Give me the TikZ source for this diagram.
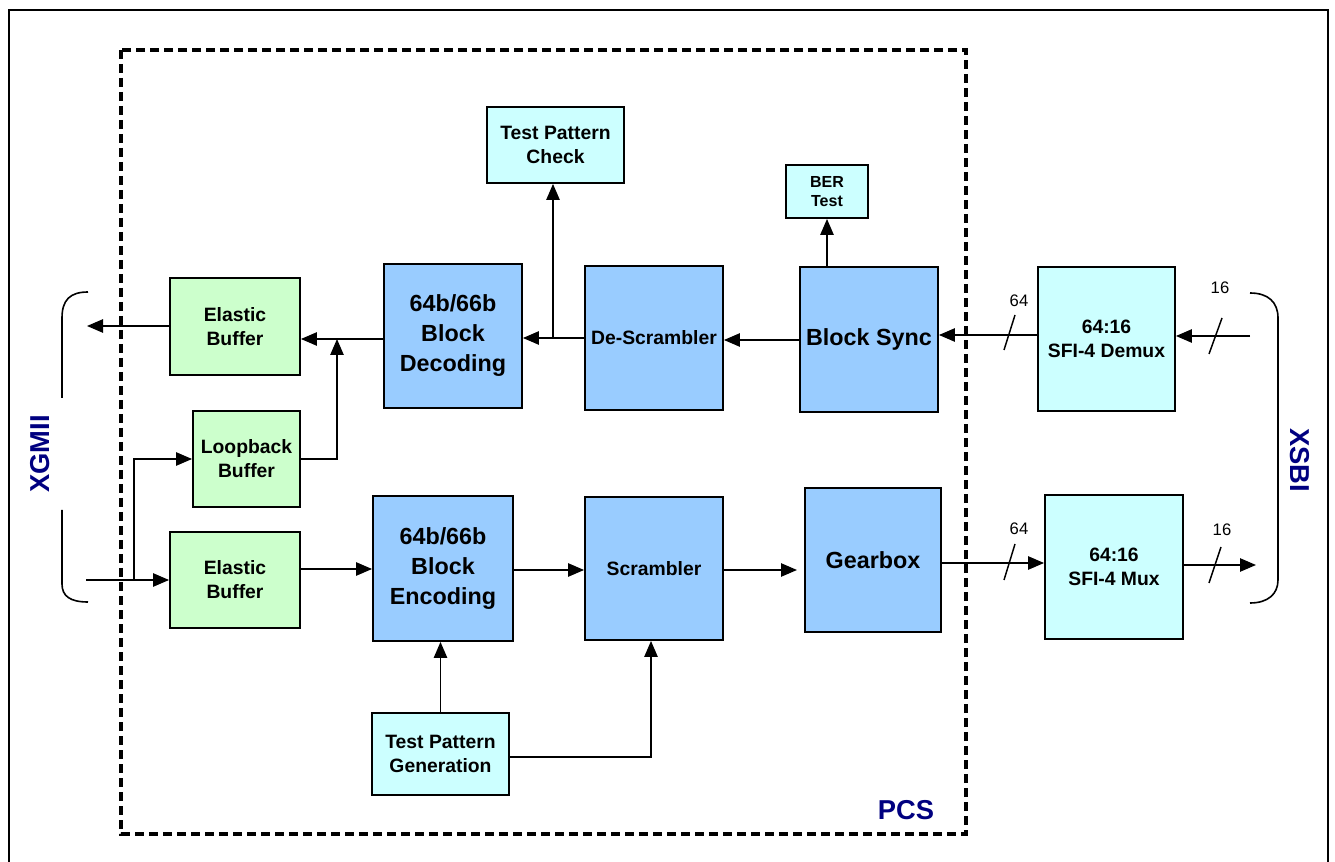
\documentclass[tikz,border=0pt]{standalone}
\usepackage{fontspec}
\setmainfont{Liberation Sans}
\usetikzlibrary{arrows.meta}
\definecolor{gbox}{HTML}{CCFFCC}
\definecolor{bbox}{HTML}{99CCFF}
\definecolor{cbox}{HTML}{CCFFFF}
\definecolor{navyc}{HTML}{000080}
\begin{document}
\begin{tikzpicture}[x=0.75pt,y=-0.75pt,
 box/.style={draw, line width=1.4pt, align=center, inner sep=0pt, font=\bfseries\fontsize{14.5}{18}\selectfont},
 big/.style={font=\bfseries\fontsize{17.5}{22.5}\selectfont},
 small/.style={font=\bfseries\fontsize{12}{14}\selectfont},
 arr/.style={line width=1.2pt, -{Triangle[length=12pt,width=10pt]}},
 ln/.style={line width=1.1pt},
 lbl/.style={font=\fontsize{12.5}{14}\selectfont},
 side/.style={text=navyc, font=\bfseries\fontsize{20.5}{24}\selectfont}]

\useasboundingbox (0,0) rectangle (1335,862);
\draw[line width=2.2pt] (9,890) -- (9,10) -- (1328,10) -- (1328,890);
\draw[line width=2.3pt, dash pattern=on 6.5pt off 4pt] (121,50) rectangle (966,834);

% boxes
\node[box, fill=gbox, minimum width=97.5pt, minimum height=72.75pt] (eb1) at (235,326.5) {Elastic\\Buffer};
\node[box, fill=gbox, minimum width=80.25pt, minimum height=72pt] (lb) at (246.5,459) {Loopback\\Buffer};
\node[box, fill=gbox, minimum width=97.5pt, minimum height=72pt] (eb2) at (235,580) {Elastic\\Buffer};
\node[box, big, fill=bbox, minimum width=103.5pt, minimum height=108pt] (dec) at (453,336) {64b/66b\\Block\\Decoding};
\node[box, fill=bbox, minimum width=103.5pt, minimum height=108pt] (desc) at (654,338) {De-Scrambler};
\node[box, big, fill=bbox, minimum width=103.5pt, minimum height=108.75pt] (sync) at (869,339.5) {Block Sync};
\node[box, fill=cbox, minimum width=102.75pt, minimum height=57pt] (tpc) at (555.5,145) {Test Pattern\\Check};
\node[box, small, fill=cbox, minimum width=61.5pt, minimum height=39.75pt] (ber) at (827,191.5) {BER\\Test};
\node[box, fill=cbox, minimum width=102.75pt, minimum height=108pt] (demux) at (1106.5,339) {64:16\\SFI-4 Demux};
\node[box, big, fill=bbox, minimum width=105pt, minimum height=108.75pt] (enc) at (443,568.5) {64b/66b\\Block\\Encoding};
\node[box, fill=bbox, minimum width=103.5pt, minimum height=107.25pt] (scr) at (654,568.5) {Scrambler};
\node[box, big, fill=bbox, minimum width=102pt, minimum height=108pt] (gear) at (873,560) {Gearbox};
\node[box, fill=cbox, minimum width=103.5pt, minimum height=108pt] (mux) at (1114,567) {64:16\\SFI-4 Mux};
\node[box, fill=cbox, minimum width=102.75pt, minimum height=61.5pt] (tpg) at (440.5,754) {Test Pattern\\Generation};

% receive path
\coordinate (xin) at (1250,336);
\draw[arr] (xin) -- (demux.east |- xin);
\draw[ln] (1222,318) -- (1209,354);
\node[lbl] (l16a) at (1220,288) {16};
\coordinate (y2) at (0,335);
\draw[arr] (demux.west |- y2) -- (sync.east |- y2);
\draw[ln] (1015,315) -- (1004,350);
\node[lbl] (l64a) at (1019,301) {64};
\coordinate (y3) at (0,340);
\draw[arr] (sync.west |- y3) -- (desc.east |- y3);
\coordinate (y4) at (0,338);
\draw[arr] (desc.west |- y4) -- (dec.east |- y4);
\coordinate (j1) at (553,338);
\draw[arr] (j1) -- (j1 |- tpc.south);
\draw[arr] (ber.south |- sync.north) -- (ber.south);
\coordinate (y6) at (0,339);
\draw[arr] (dec.west |- y6) -- (eb1.east |- y6);
\coordinate (j2) at (337,339);
\draw[arr] (lb.east) -- (lb.east -| j2) -- (j2);
\coordinate (xout) at (87,326);
\draw[arr] (eb1.west |- xout) -- (xout);

% transmit path
\coordinate (xi) at (86,580);
\draw[arr] (xi) -- (eb2.west);
\coordinate (j3) at (134,580);
\draw[arr] (j3) -- (j3 |- lb.west) -- (lb.west);
\coordinate (y10) at (0,569);
\draw[arr] (eb2.east |- y10) -- (enc.west |- y10);
\coordinate (y11) at (0,570);
\draw[arr] (enc.east |- y11) -- (scr.west |- y11);
\coordinate (gin) at (797,570);
\draw[arr] (scr.east |- y11) -- (gin);
\coordinate (y13) at (0,563);
\draw[arr] (gear.east |- y13) -- (mux.west |- y13);
\draw[ln] (1015,544) -- (1004,580);
\node[lbl] (l64b) at (1019,529) {64};
\coordinate (xo) at (1256,565);
\draw[arr] (mux.east |- xo) -- (xo);
\draw[ln] (1221,547) -- (1209,583);
\node[lbl] (l16b) at (1222,530) {16};
\draw[arr] (tpg.north) -- (tpg.north |- enc.south);
\coordinate (j4) at (651,757);
\draw[arr] (tpg.east |- j4) -- (j4) -- (j4 |- scr.south);

% brackets
\draw[line width=1.2pt] (88,292) .. controls (70,292) and (62,300) .. (62,318) -- (62,398);
\draw[line width=1.2pt] (62,510) -- (62,584) .. controls (62,596) and (70,602) .. (88,602);
\draw[line width=1.2pt] (1250,293) .. controls (1268,293) and (1278,302) .. (1278,318) -- (1278,580) .. controls (1278,594) and (1268,603) .. (1250,603);

% labels
\node[side, rotate=90] (xgmii) at (40,454) {XGMII};
\node[side, rotate=-90] (xsbi) at (1300,460) {XSBI};
\node[side] (pcs) at (906,810) {PCS};
\end{tikzpicture}
\end{document}
